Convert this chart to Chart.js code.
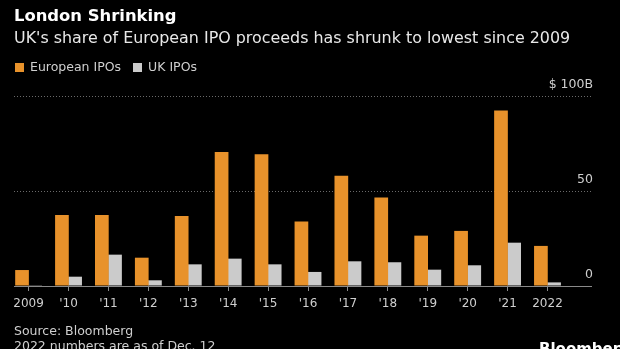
<!DOCTYPE html>
<html>
<head>
<meta charset="utf-8">
<script src="https://cdn.jsdelivr.net/npm/chart.js@4"></script>
<style>
  html, body { margin: 0; padding: 0; background: #000; overflow: hidden; }
  body { width: 620px; height: 349px; position: relative; font-family: "DejaVu Sans", sans-serif; }
  #chart { position: absolute; left: 0; top: 0; }
  .txt { position: absolute; white-space: nowrap; }
  #title { left: 14px; top: 6px; font-size: 16.4px; font-weight: bold; color: #fff; }
  #subtitle { left: 14px; top: 28px; font-size: 15.9px; color: #e8e8e8; }
  #legend { left: 15px; top: 59px; font-size: 12.5px; color: #cfcfcf; }
  #legend span.sw { display: inline-block; width: 9px; height: 9px; margin-right: 6px; vertical-align: -1px; }
  #legend span.item { margin-right: 12px; }
  #source { left: 14px; top: 323px; font-size: 12.5px; color: #cfcfcf; line-height: 15px; }
  #logo { left: 539px; top: 340px; font-size: 15px; font-weight: bold; color: #fff; }
</style>
</head>
<body>
<canvas id="chart" width="620" height="349"></canvas>
<div class="txt" id="title">London Shrinking</div>
<div class="txt" id="subtitle">UK's share of European IPO proceeds has shrunk to lowest since 2009</div>
<div class="txt" id="legend"><span class="item"><span class="sw" style="background:#e8922b"></span>European IPOs</span><span class="item"><span class="sw" style="background:#cbcbcb"></span>UK IPOs</span></div>
<div class="txt" id="source">Source: Bloomberg<br>2022 numbers are as of Dec. 12</div>
<div class="txt" id="logo">Bloomberg</div>
<script>
const years = [2009, 2010, 2011, 2012, 2013, 2014, 2015, 2016, 2017, 2018, 2019, 2020, 2021, 2022];
const yearLabels = ['2009', "'10", "'11", "'12", "'13", "'14", "'15", "'16", "'17", "'18", "'19", "'20", "'21", '2022'];
const europeanIPOs = [8.4, 37.4, 37.4, 14.9, 36.9, 70.5, 69.4, 33.9, 58.0, 46.6, 26.5, 29.0, 92.4, 21.1];
const ukIPOs = [0.4, 4.9, 16.5, 3.0, 11.4, 14.4, 11.4, 7.4, 13.0, 12.5, 8.6, 10.9, 22.8, 1.9];
const yTicks = [0, 50, 100];

const orange = '#e8922b';
const grey = '#cbcbcb';
const ctx = document.getElementById('chart').getContext('2d');

function points(values) {
    return years.map((yr, i) => ({ x: yr, y: values[i] }));
}

function labelFor(value) {
    const i = years.indexOf(value);
    return i >= 0 ? yearLabels[i] : '';
}

const chart = new Chart(ctx, {
    type: 'bar',
    data: {
        datasets: [
            { label: 'European IPOs', data: points(europeanIPOs), backgroundColor: orange },
            { label: 'UK IPOs', data: points(ukIPOs), backgroundColor: grey }
        ]
    },
    options: {
        responsive: false,
        animation: false,
        events: [],
        layout: { padding: { left: 14, right: 25, top: 96, bottom: 31.6 } },
        // slightly over 1 so the pair of bars touches without a seam
        datasets: { bar: { barPercentage: 1.04, categoryPercentage: 0.66 } },
        plugins: { legend: { display: false }, tooltip: { enabled: false } },
        scales: {
            x: {
                type: 'linear',
                offset: false,
                min: 2008.634,
                max: 2023.09,
                grid: {
                    offset: false,
                    drawOnChartArea: false,
                    drawTicks: true,
                    tickLength: 5,
                    tickColor: c => labelFor(c.tick && c.tick.value) ? '#8a8a8a' : 'transparent'
                },
                border: { display: true, color: '#8a8a8a', width: 1 },
                ticks: {
                    stepSize: 1,
                    includeBounds: false,
                    autoSkip: false,
                    maxRotation: 0,
                    padding: 6,
                    color: '#cfcfcf',
                    font: { family: 'DejaVu Sans', size: 12 },
                    callback: v => labelFor(v)
                }
            },
            y: {
                position: 'right',
                min: 0,
                max: 100,
                afterBuildTicks: s => { s.ticks = yTicks.map(v => ({ value: v })); },
                grid: {
                    drawTicks: false,
                    color: c => c.tick && c.tick.value === 0 ? 'transparent' : '#6a6a6a'
                },
                border: { display: false, dash: [1, 2] },
                ticks: {
                    mirror: true,
                    padding: 2,
                    labelOffset: -11.5,
                    color: '#cfcfcf',
                    font: { family: 'DejaVu Sans', size: 12.5 },
                    callback: v => v === 100 ? '$ 100B' : String(v)
                }
            }
        }
    }
});
</script>
</body>
</html>
